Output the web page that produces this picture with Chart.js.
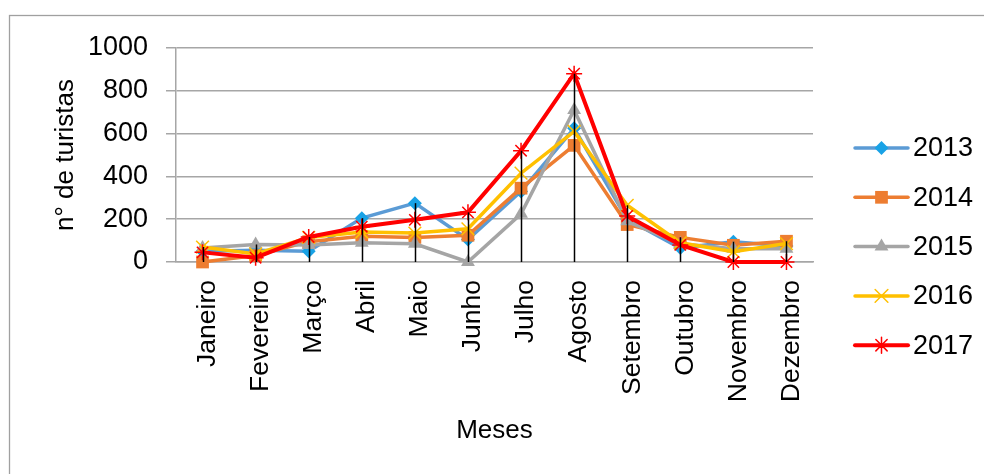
<!DOCTYPE html>
<html>
<head>
<meta charset="utf-8">
<style>
  html, body { margin: 0; padding: 0; background: #ffffff; }
  #wrap { position: relative; width: 984px; height: 474px; }
  canvas { display: block; }
</style>
<script src="https://cdn.jsdelivr.net/npm/chart.js@4/dist/chart.umd.min.js"></script>
</head>
<body>
<div id="wrap"><canvas id="chart" width="984" height="474"></canvas></div>
<script>
// Months on the category axis
const meses = ['Janeiro', 'Fevereiro', 'Março', 'Abril', 'Maio', 'Junho',
               'Julho', 'Agosto', 'Setembro', 'Outubro', 'Novembro', 'Dezembro'];

// Tourists per month, one list per year
const turistas2013 = [50, 55, 50, 205, 275, 105, 330, 625, 200, 65, 95, 75];
const turistas2014 = [0, 30, 95, 120, 115, 125, 345, 545, 175, 115, 78, 97];
const turistas2015 = [65, 82, 80, 90, 85, 0, 225, 710, 190, 85, 62, 62];
const turistas2016 = [70, 38, 115, 140, 135, 155, 415, 610, 265, 90, 48, 86];
const turistas2017 = [45, 20, 117, 165, 197, 232, 520, 880, 215, 80, 0, 0];

const anos = ['2013', '2014', '2015', '2016', '2017'];

const FONT = '"Liberation Sans", Arial, sans-serif';
const GRID = '#A6A6A6';

function serie(label, data, line, marker, style, radius, width, order) {
  return {
    label: label,
    data: data,
    borderColor: line,
    backgroundColor: line,
    borderWidth: width,
    pointStyle: style,
    pointRadius: radius,
    pointHoverRadius: radius,
    pointBackgroundColor: marker,
    pointBorderColor: marker,
    pointBorderWidth: (style === 'crossRot' || style === 'star') ? 1.5 : 0,
    tension: 0,
    clip: false,
    order: order
  };
}

const datasets = [
  serie(anos[0], turistas2013, '#5B9BD5', '#19A2E6', 'rectRot', 7, 3.5, 5),
  serie(anos[1], turistas2014, '#ED7D31', '#ED7D31', 'rect', 9, 3.5, 4),
  serie(anos[2], turistas2015, '#A5A5A5', '#A5A5A5', 'triangle', 8, 3.5, 3),
  serie(anos[3], turistas2016, '#FFC000', '#FFC000', 'crossRot', 9, 3.5, 2),
  serie(anos[4], turistas2017, '#FF0000', '#FF0000', 'star', 8, 4, 1)
];

// Frame around the whole chart
const moldura = {
  id: 'moldura',
  beforeDraw(chart) {
    const ctx = chart.ctx;
    ctx.save();
    ctx.fillStyle = '#ffffff';
    ctx.fillRect(0, 0, chart.width, chart.height);
    ctx.strokeStyle = '#A0A0A0';
    ctx.lineWidth = 1.3;
    ctx.strokeRect(9.5, 15.5, 1100, 600);
    ctx.restore();
  }
};

// Vertical drop lines from the highest value of each month to the axis
const linhasQueda = {
  id: 'linhasQueda',
  afterDatasetsDraw(chart) {
    const ctx = chart.ctx;
    const x = chart.scales.x, y = chart.scales.y;
    ctx.save();
    ctx.strokeStyle = '#000000';
    ctx.lineWidth = 1.5;
    meses.forEach((m, i) => {
      const topo = Math.max(...chart.data.datasets.map(d => d.data[i]));
      const px = Math.round(x.getPixelForValue(i)) + 0.5;
      ctx.beginPath();
      ctx.moveTo(px, y.getPixelForValue(topo));
      ctx.lineTo(px, y.getPixelForValue(0));
      ctx.stroke();
    });
    ctx.restore();
  }
};

// Axis titles and the legend on the right
const textos = {
  id: 'textos',
  afterDraw(chart) {
    const ctx = chart.ctx;
    const area = chart.chartArea;
    ctx.save();
    ctx.fillStyle = '#000000';
    ctx.textAlign = 'center';
    ctx.textBaseline = 'middle';

    ctx.font = '26px ' + FONT;
    ctx.fillText('Meses', (area.left + area.right) / 2, 431);

    ctx.save();
    ctx.translate(66, (area.top + area.bottom) / 2);
    ctx.rotate(-Math.PI / 2);
    ctx.fillText('n° de turistas', 0, 0);
    ctx.restore();

    const y0 = 148, passo = 49.3;
    chart.data.datasets.forEach((d, i) => {
      const yy = y0 + i * passo;
      ctx.strokeStyle = d.borderColor;
      ctx.lineWidth = d.borderWidth;
      ctx.lineCap = 'round';
      ctx.beginPath();
      ctx.moveTo(855, yy);
      ctx.lineTo(908, yy);
      ctx.stroke();
      ctx.fillStyle = d.pointBackgroundColor;
      ctx.strokeStyle = d.pointBorderColor;
      ctx.lineWidth = d.pointBorderWidth || 1;
      Chart.helpers.drawPoint(ctx, {
        pointStyle: d.pointStyle,
        radius: d.pointRadius,
        rotation: 0,
        borderWidth: d.pointBorderWidth
      }, 881.5, yy);
      ctx.fillStyle = '#000000';
      ctx.textAlign = 'left';
      ctx.font = '27px ' + FONT;
      ctx.fillText(d.label, 913, yy + 1);
    });
    ctx.restore();
  }
};

new Chart(document.getElementById('chart'), {
  type: 'line',
  data: { labels: meses, datasets: datasets },
  plugins: [moldura, linhasQueda, textos],
  options: {
    responsive: false,
    animation: false,
    events: [],
    layout: { padding: { left: 0, right: 171, top: 48, bottom: 0 } },
    plugins: { legend: { display: false }, tooltip: { enabled: false } },
    scales: {
      x: {
        type: 'category',
        offset: true,
        grid: { display: false, drawTicks: false },
        border: { display: true, color: GRID, width: 1.5 },
        ticks: {
          color: '#000000',
          font: { family: FONT, size: 26.5 },
          minRotation: 90,
          maxRotation: 90,
          autoSkip: false,
          labelOffset: 5,
          padding: 18
        },
        afterFit(scale) { scale.height = 212; }
      },
      y: {
        min: 0,
        max: 1000,
        ticks: {
          stepSize: 200,
          color: '#000000',
          font: { family: FONT, size: 27 },
          padding: 18,
          callback: (v) => String(v)
        },
        grid: { color: GRID, lineWidth: 1.5, tickLength: 10 },
        border: { display: true, color: GRID, width: 1.5 },
        afterFit(scale) { scale.width = 176; }
      }
    }
  }
});
</script>
</body>
</html>
